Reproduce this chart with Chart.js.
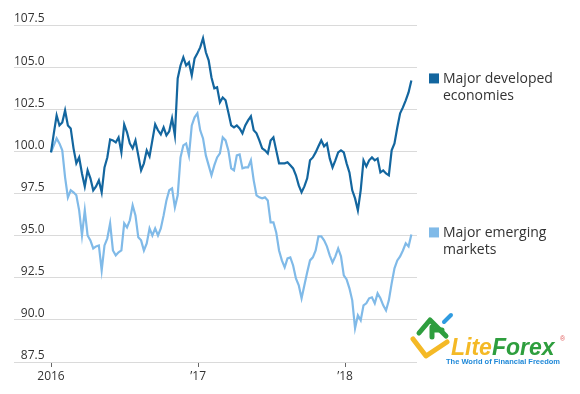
<!DOCTYPE html>
<html>
<head>
<meta charset="utf-8">
<script src="https://cdn.jsdelivr.net/npm/chart.js@4/dist/chart.umd.min.js"></script>
<style>
  html, body { margin: 0; padding: 0; background: #fff; }
  #wrap { width: 580px; height: 394px; }
</style>
</head>
<body>
<div id="wrap"><canvas id="indexChart" width="580" height="394"></canvas></div>
<script>
// weekly index readings, 2016-01-01 = 100, one value per week
const developed = [
  99.94, 101.07, 102.14, 101.54, 101.72, 102.43, 101.54, 101.36, 100.18, 99.29,
  99.64, 98.69, 97.92, 98.87, 98.40, 97.69, 97.92, 98.28, 97.57, 99.05,
  99.64, 100.71, 100.65, 100.53, 100.83, 99.94, 101.60, 101.13, 100.47, 100.18,
  100.65, 99.76, 98.87, 99.29, 100.06, 99.70, 100.65, 101.60, 101.25, 101.01,
  101.42, 100.95, 101.19, 101.96, 100.95, 104.33, 105.10, 105.58, 105.10, 105.28,
  104.51, 105.52, 105.82, 106.17, 106.71, 105.88, 105.40, 104.39, 103.74, 103.80,
  102.91, 103.20, 103.03, 102.31, 101.54, 101.42, 101.54, 101.36, 101.07, 101.54,
  101.84, 102.08, 101.25, 101.07, 100.65, 100.18, 100.06, 99.88, 100.65, 100.83,
  100.06, 99.29, 99.29, 99.29, 99.35, 99.17, 98.99, 98.58, 97.98, 97.57,
  97.92, 98.40, 99.47, 99.64, 99.94, 100.30, 100.65, 100.30, 100.47, 99.58,
  99.05, 99.47, 99.94, 100.06, 99.94, 99.29, 98.75, 97.69, 97.21, 96.50,
  97.69, 99.47, 99.11, 99.47, 99.64, 99.47, 99.58, 98.75, 98.87, 98.69,
  98.58, 100.06, 100.47, 101.42, 102.26, 102.61, 103.03, 103.50, 104.21
];

const emerging = [
  99.94, 100.36, 100.77, 100.47, 100.06, 98.46, 97.27, 97.69, 97.57, 97.39,
  96.50, 95.01, 96.50, 95.01, 94.72, 94.24, 94.36, 94.42, 92.94, 94.42,
  94.84, 95.73, 94.12, 93.83, 94.01, 94.12, 95.73, 95.49, 95.91, 96.80,
  96.20, 94.90, 94.72, 94.12, 94.54, 95.43, 95.01, 95.43, 95.01, 95.43,
  96.20, 97.09, 97.69, 97.80, 96.68, 97.39, 99.64, 100.36, 100.47, 99.76,
  101.54, 102.02, 102.26, 101.25, 100.77, 99.76, 99.17, 98.58, 99.17, 99.64,
  99.88, 100.83, 100.65, 100.06, 98.99, 98.87, 99.76, 99.82, 98.99, 99.05,
  99.05, 99.47, 98.28, 97.39, 97.27, 97.21, 97.27, 97.09, 95.79, 95.79,
  95.19, 94.12, 93.53, 93.12, 93.65, 93.71, 93.23, 92.46, 92.05, 91.28,
  92.05, 92.82, 93.53, 93.71, 94.12, 94.96, 94.96, 94.72, 94.36, 93.83,
  93.41, 93.77, 94.24, 93.77, 92.64, 92.40, 91.87, 91.16, 89.50, 90.27,
  89.97, 90.86, 90.98, 91.28, 91.34, 90.98, 91.57, 91.28, 90.86, 90.56,
  91.16, 92.17, 93.06, 93.53, 93.77, 94.12, 94.54, 94.36, 95.07
];

const seriesLabels = [
  ["Major developed", "economies"],
  ["Major emerging", "markets"]
];
const seriesColors = ["#13669f", "#80bae8"];

// x ticks: days since 2016-01-01
const tickDays = [0, 366, 731];
const tickLabels = ["2016", "\u201917", "\u201918"];

const yTicks = [87.5, 90, 92.5, 95, 97.5, 100, 102.5, 105, 107.5];

function toPoints(values) {
  return values.map((v, i) => ({ x: i * 7, y: v }));
}

const sideLegend = {
  id: "sideLegend",
  afterDraw(chart) {
    const ctx = chart.ctx;
    ctx.save();
    chart.data.datasets.forEach((ds, i) => {
      const meta = chart.getDatasetMeta(i);
      const last = meta.data[meta.data.length - 1];
      const cy = last.y - 2;
      ctx.fillStyle = seriesColors[i];
      ctx.fillRect(429, cy - 5, 10, 10);
      ctx.fillStyle = "#333";
      ctx.font = "14px 'Open Sans'";
      ctx.textAlign = "left";
      ctx.textBaseline = "alphabetic";
      seriesLabels[i].forEach((line, k) => {
        ctx.fillText(line, 443, cy + 5 + k * 17);
      });
    });
    ctx.restore();
  }
};

const logo = {
  id: "logo",
  afterDraw(chart) {
    const ctx = chart.ctx;
    ctx.save();
    ctx.lineCap = "round";
    ctx.lineJoin = "round";
    ctx.lineWidth = 5;

    ctx.strokeStyle = "#f4b926";
    ctx.beginPath();
    ctx.moveTo(413, 339);
    ctx.lineTo(426, 356);
    ctx.lineTo(447, 342);
    ctx.stroke();

    ctx.strokeStyle = "#2e9e3e";
    ctx.beginPath();
    ctx.moveTo(419, 333);
    ctx.lineTo(430, 320);
    ctx.lineTo(446, 336);
    ctx.stroke();
    ctx.beginPath();
    ctx.moveTo(432, 327);
    ctx.lineTo(432, 337);
    ctx.moveTo(432, 330);
    ctx.lineTo(442, 330);
    ctx.stroke();

    ctx.strokeStyle = "#2f9be0";
    ctx.lineWidth = 4;
    ctx.beginPath();
    ctx.moveTo(444, 322);
    ctx.lineTo(451, 315);
    ctx.stroke();

    ctx.font = "italic bold 23px 'Liberation Sans'";
    ctx.textAlign = "left";
    ctx.textBaseline = "alphabetic";
    ctx.fillStyle = "#f4b926";
    ctx.fillText("Lite", 451, 355);
    const w = ctx.measureText("Lite").width;
    ctx.fillStyle = "#2e9e3e";
    ctx.fillText("Forex", 451 + w, 355);

    ctx.fillStyle = "#e05a5a";
    ctx.font = "7px 'Liberation Sans'";
    ctx.fillText("\u00ae", 560, 341);

    ctx.fillStyle = "#1e88d8";
    ctx.font = "bold 7.5px 'Liberation Sans'";
    ctx.fillText("The World of Financial Freedom", 446, 364);
    ctx.restore();
  }
};

const ctx = document.getElementById("indexChart");

new Chart(ctx, {
  type: "line",
  data: {
    datasets: [
      {
        label: seriesLabels[0].join(" "),
        data: toPoints(developed),
        borderColor: seriesColors[0],
        borderWidth: 2.2,
        pointRadius: 0,
        tension: 0
      },
      {
        label: seriesLabels[1].join(" "),
        data: toPoints(emerging),
        borderColor: seriesColors[1],
        borderWidth: 2.2,
        pointRadius: 0,
        tension: 0
      }
    ]
  },
  options: {
    responsive: false,
    animation: false,
    devicePixelRatio: 1,
    layout: {
      padding: { left: 14, right: 163, top: 25, bottom: 0 }
    },
    plugins: {
      legend: { display: false },
      tooltip: { enabled: false }
    },
    scales: {
      x: {
        type: "linear",
        min: -92,
        max: 910,
        afterBuildTicks: (axis) => {
          axis.ticks = tickDays.map(v => ({ value: v }));
        },
        afterFit: (axis) => {
          axis.height = 32;
        },
        ticks: {
          color: "#333",
          font: { family: "'Open Sans'", size: 12 },
          padding: 2,
          maxRotation: 0,
          autoSkip: false,
          callback: (v) => tickLabels[tickDays.indexOf(v)]
        },
        grid: {
          drawOnChartArea: false,
          drawTicks: true,
          tickLength: 5,
          color: "#666"
        },
        border: { display: false }
      },
      y: {
        min: 87.5,
        max: 107.5,
        afterBuildTicks: (axis) => {
          axis.ticks = yTicks.map(v => ({ value: v }));
        },
        ticks: {
          mirror: true,
          crossAlign: "far",
          padding: 0,
          labelOffset: -6,
          color: "#333",
          font: { family: "'Open Sans'", size: 12 },
          callback: (v) => v.toFixed(1)
        },
        grid: {
          color: "#dadada",
          drawTicks: false
        },
        border: { display: false }
      }
    }
  },
  plugins: [sideLegend, logo]
});
</script>
</body>
</html>
